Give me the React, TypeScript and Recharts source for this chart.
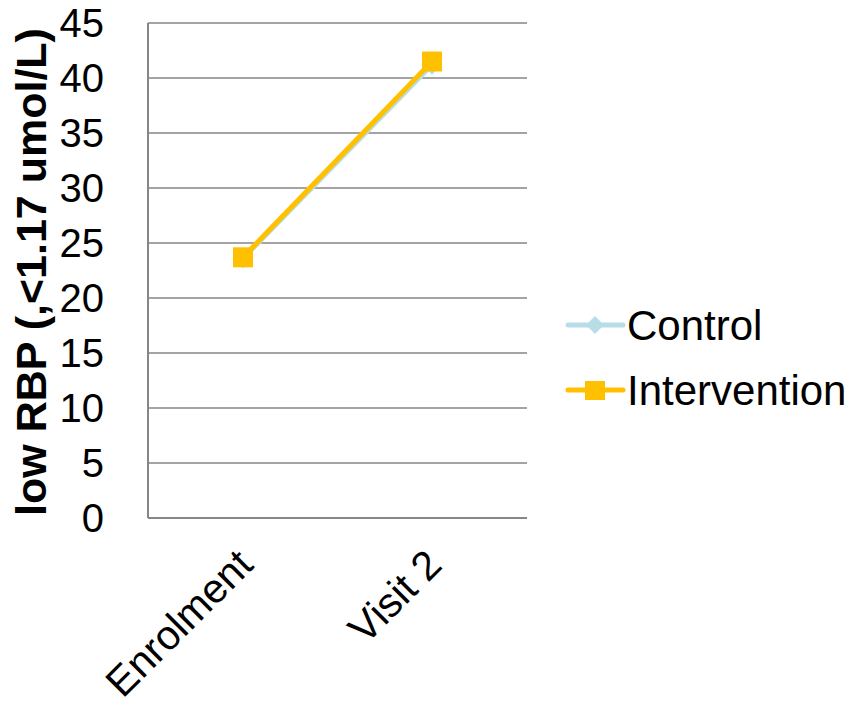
import { LineChart, Line, XAxis, YAxis, CartesianGrid } from 'recharts';

const categories = ['Enrolment', 'Visit 2'];
const controlValues = [23.6, 41.2];
const interventionValues = [23.7, 41.5];
const yTicks = [0, 5, 10, 15, 20, 25, 30, 35, 40, 45];

const data = categories.map((name, i) => ({
  name,
  control: controlValues[i],
  intervention: interventionValues[i],
}));

const FONT = '"Liberation Sans", Arial, sans-serif';
const CONTROL_COLOR = '#B7DEE8';
const INTERVENTION_COLOR = '#FFC000';
const GRID_COLOR = '#868686';

function SquareDot(props: any) {
  const { cx, cy } = props;
  if (cx == null || cy == null) return null;
  return <rect x={cx - 10} y={cy - 10} width={20} height={20} fill={INTERVENTION_COLOR} />;
}

function DiamondDot(props: any) {
  const { cx, cy } = props;
  if (cx == null || cy == null) return null;
  return <polygon points={`${cx},${cy - 10} ${cx + 10},${cy} ${cx},${cy + 10} ${cx - 10},${cy}`} fill={CONTROL_COLOR} />;
}

function XTick(props: any) {
  const { x, y, payload } = props;
  return (
    <g transform={`translate(${x + 12},${y + 41})`}>
      <text x={0} y={0} textAnchor="end" transform="rotate(-45)" fontSize={41} fontFamily={FONT} fill="#000">
        {payload.value}
      </text>
    </g>
  );
}

// legend drawn beside the chart
function LegendBox() {
  const items = [
    { label: 'Control', color: CONTROL_COLOR, shape: 'diamond' },
    { label: 'Intervention', color: INTERVENTION_COLOR, shape: 'square' },
  ];
  return (
    <svg width={290} height={130} style={{ position: 'absolute', left: 560, top: 295 }}>
      {items.map((it, i) => {
        const cy = 30 + i * 65;
        return (
          <g key={it.label}>
            <line x1={8} x2={63} y1={cy} y2={cy} stroke={it.color} strokeWidth={5} strokeLinecap="round" />
            {it.shape === 'diamond' ? (
              <polygon points={`35,${cy - 9} 44,${cy} 35,${cy + 9} 26,${cy}`} fill={it.color} />
            ) : (
              <rect x={25} y={cy - 9} width={20} height={19} fill={it.color} />
            )}
            <text x={67} y={cy + 15} fontSize={42} fontFamily={FONT} fill="#000">{it.label}</text>
          </g>
        );
      })}
    </svg>
  );
}

export default function App() {
  return (
    <div style={{ position: 'absolute', left: 0, top: 0, width: 853, height: 706, background: '#fff' }}>
      <LineChart width={853} height={706} data={data} margin={{ top: 23, right: 326, bottom: 0, left: 0 }}>
        <CartesianGrid vertical={false} stroke={GRID_COLOR} strokeWidth={1.5} />
        <XAxis
          dataKey="name"
          tick={<XTick />}
          tickLine={false}
          axisLine={{ stroke: GRID_COLOR, strokeWidth: 2 }}
          interval={0}
          height={188}
          padding={{ left: 95, right: 95 }}
        />
        <YAxis
          domain={[0, 45]}
          ticks={yTicks}
          interval={0}
          width={148}
          tickLine={false}
          tickMargin={38}
          axisLine={{ stroke: GRID_COLOR, strokeWidth: 2 }}
          tick={{ fontSize: 40, fontFamily: FONT, fill: '#000' }}
        />
        <Line
          type="linear"
          dataKey="control"
          name="Control"
          stroke={CONTROL_COLOR}
          strokeWidth={5}
          dot={<DiamondDot />}
          activeDot={false}
          isAnimationActive={false}
        />
        <Line
          type="linear"
          dataKey="intervention"
          name="Intervention"
          stroke={INTERVENTION_COLOR}
          strokeWidth={5}
          dot={<SquareDot />}
          activeDot={false}
          isAnimationActive={false}
        />
        <text
          x={46}
          y={272}
          transform="rotate(-90, 46, 272)"
          textAnchor="middle"
          fontSize={43}
          fontWeight="bold"
          fontFamily={FONT}
          fill="#000"
        >
          low RBP (,&lt;1.17 umol/L)
        </text>
      </LineChart>
      <LegendBox />
    </div>
  );
}
